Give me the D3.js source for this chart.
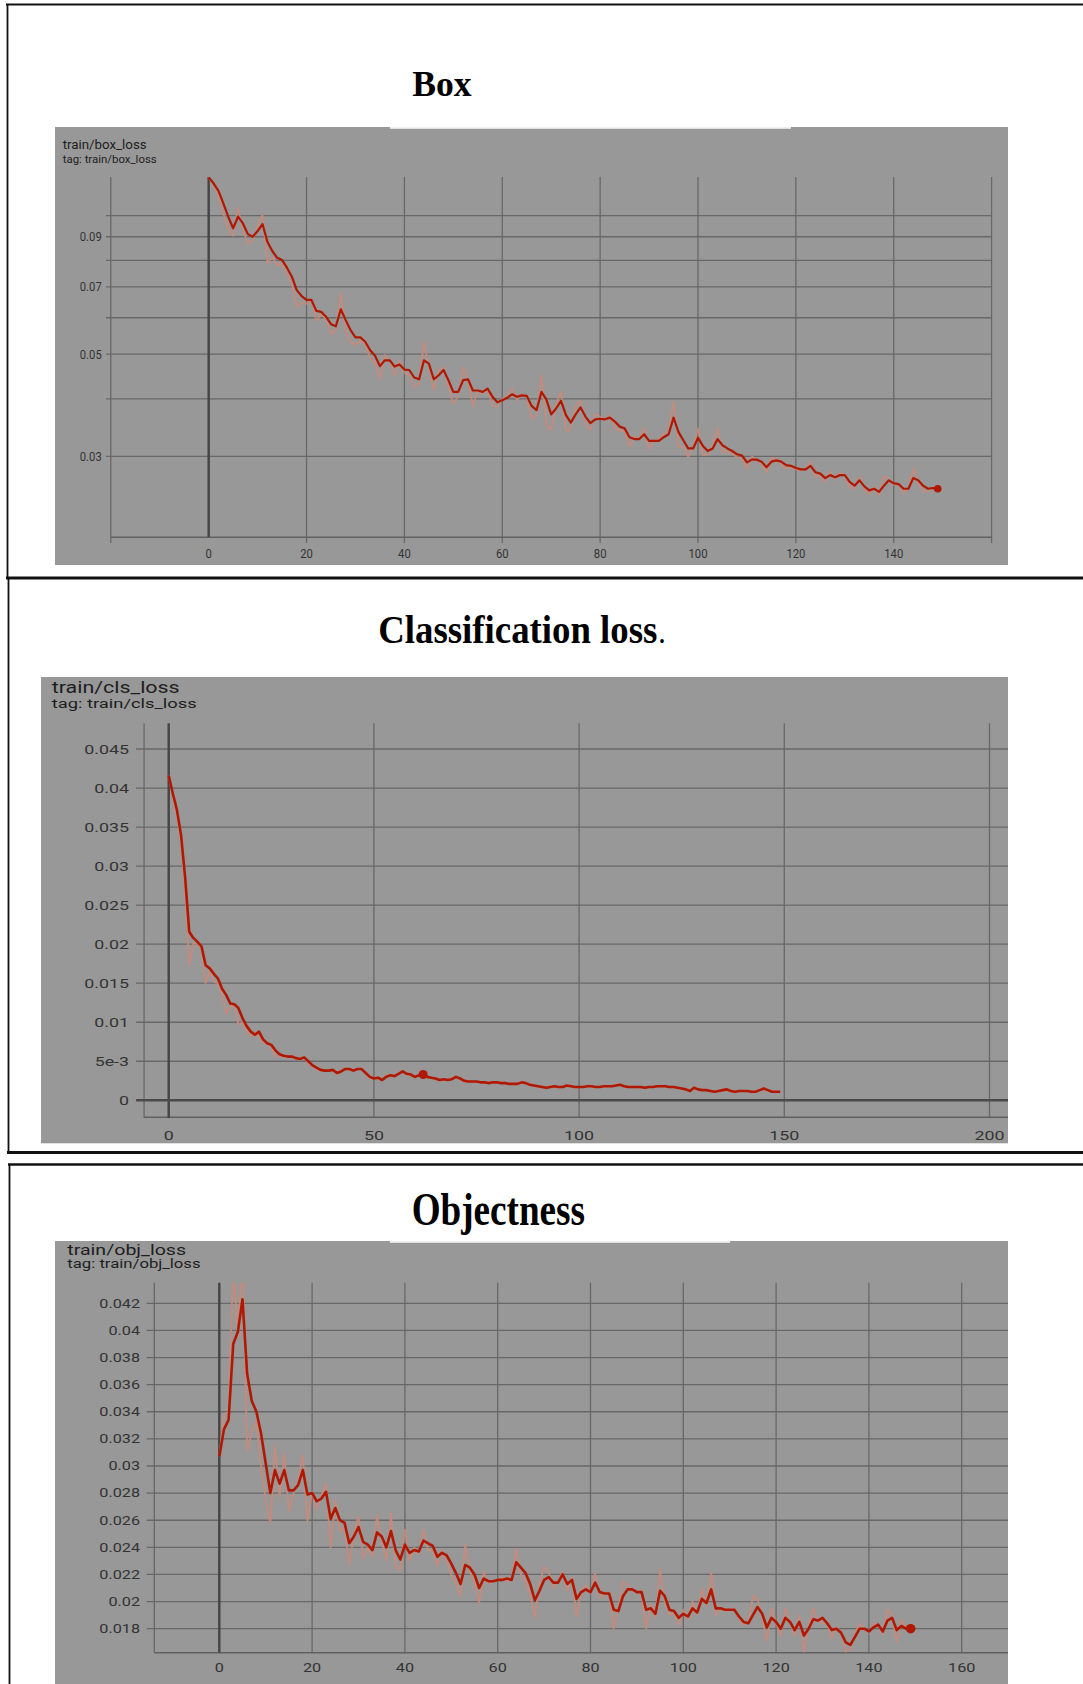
<!DOCTYPE html>
<html>
<head>
<meta charset="utf-8">
<script src="https://cdnjs.cloudflare.com/ajax/libs/d3/7.8.5/d3.min.js"></script>
<style>
  body { margin: 0; background: #fff; }
  svg { display: block; }
</style>
</head>
<body>
<svg id="draw"></svg>
<script>
// values, one value per epoch (0..149)
// dark line = smoothed, faint line = raw

var boxSmooth = [
  0.1212,0.1176,0.1132,0.1064,0.0995,0.0939,0.0995,0.0962,0.0912,0.0900,
  0.0926,0.0959,0.0878,0.0838,0.0810,0.0801,0.0771,0.0737,0.0689,0.0669,
  0.0656,0.0656,0.0621,0.0618,0.0603,0.0581,0.0575,0.0626,0.0593,0.0564,
  0.0544,0.0544,0.0532,0.0510,0.0496,0.0471,0.0485,0.0485,0.0470,0.0475,
  0.0463,0.0462,0.0445,0.0441,0.0485,0.0477,0.0441,0.0450,0.0462,0.0439,
  0.0414,0.0414,0.0439,0.0441,0.0417,0.0417,0.0414,0.0421,0.0404,0.0393,
  0.0397,0.0402,0.0409,0.0404,0.0407,0.0406,0.0386,0.0378,0.0414,0.0399,
  0.0370,0.0381,0.0396,0.0369,0.0355,0.0370,0.0383,0.0366,0.0354,0.0361,
  0.0362,0.0361,0.0364,0.0357,0.0348,0.0345,0.0330,0.0327,0.0327,0.0335,
  0.0324,0.0324,0.0324,0.0330,0.0335,0.0364,0.0339,0.0325,0.0312,0.0312,
  0.0329,0.0316,0.0308,0.0312,0.0327,0.0317,0.0312,0.0308,0.0303,0.0301,
  0.0291,0.0295,0.0295,0.0292,0.0284,0.0292,0.0294,0.0292,0.0287,0.0286,
  0.0283,0.0281,0.0281,0.0286,0.0277,0.0275,0.0269,0.0273,0.0270,0.0273,
  0.0273,0.0264,0.0259,0.0266,0.0258,0.0253,0.0255,0.0251,0.0259,0.0266,
  0.0262,0.0261,0.0255,0.0255,0.0269,0.0266,0.0259,0.0255,0.0256,0.0255
];
var boxRaw = [
  0.1212,0.1165,0.1110,0.1010,0.0935,0.0905,0.1040,0.0930,0.0870,0.0885,
  0.0950,0.1005,0.0790,0.0812,0.0779,0.0788,0.0750,0.0710,0.0634,0.0647,
  0.0643,0.0660,0.0590,0.0611,0.0595,0.0553,0.0565,0.0680,0.0560,0.0532,
  0.0524,0.0535,0.0525,0.0490,0.0480,0.0443,0.0498,0.0485,0.0450,0.0484,
  0.0455,0.0450,0.0425,0.0432,0.0531,0.0470,0.0418,0.0462,0.0468,0.0425,
  0.0390,0.0405,0.0468,0.0440,0.0386,0.0417,0.0410,0.0421,0.0386,0.0385,
  0.0400,0.0405,0.0421,0.0397,0.0410,0.0405,0.0362,0.0369,0.0450,0.0351,
  0.0342,0.0390,0.0414,0.0340,0.0345,0.0387,0.0396,0.0351,0.0342,0.0370,
  0.0366,0.0358,0.0368,0.0345,0.0340,0.0342,0.0315,0.0331,0.0327,0.0345,
  0.0312,0.0324,0.0326,0.0336,0.0340,0.0394,0.0315,0.0314,0.0299,0.0315,
  0.0345,0.0302,0.0303,0.0318,0.0345,0.0306,0.0308,0.0305,0.0298,0.0298,
  0.0282,0.0300,0.0294,0.0290,0.0277,0.0298,0.0296,0.0289,0.0282,0.0285,
  0.0281,0.0279,0.0281,0.0292,0.0270,0.0273,0.0264,0.0278,0.0267,0.0276,
  0.0273,0.0257,0.0255,0.0271,0.0254,0.0248,0.0257,0.0247,0.0271,0.0268,
  0.0260,0.0261,0.0250,0.0256,0.0282,0.0262,0.0252,0.0251,0.0257,0.0255
];

var clsSmooth = [
  0.0416,0.0393,0.0372,0.0340,0.0286,0.0216,0.0208,0.0203,0.0197,0.0173,
  0.0169,0.0162,0.0156,0.0143,0.0135,0.0124,0.0123,0.0118,0.0105,0.0095,
  0.0088,0.0084,0.0088,0.0078,0.0073,0.0071,0.0064,0.0059,0.0057,0.0056,
  0.0056,0.0054,0.0053,0.0055,0.0050,0.0045,0.0042,0.0039,0.0038,0.0038,
  0.0039,0.0035,0.0037,0.0040,0.0040,0.0038,0.0040,0.0040,0.0035,0.0030,
  0.0028,0.0029,0.0026,0.0030,0.0032,0.0031,0.0034,0.0037,0.0034,0.0033,
  0.0030,0.0032,0.0033,0.0030,0.0029,0.0028,0.0026,0.0027,0.0026,0.0027,
  0.0030,0.0028,0.0025,0.0024,0.0024,0.0024,0.0023,0.0023,0.0022,0.0023,
  0.0023,0.0022,0.0022,0.0021,0.0021,0.0021,0.0023,0.0022,0.0020,0.0019,
  0.0018,0.0017,0.0016,0.0017,0.0018,0.0017,0.0017,0.0019,0.0018,0.0017,
  0.0017,0.0017,0.0018,0.0018,0.0017,0.0017,0.0018,0.0018,0.0018,0.0019,
  0.0020,0.0018,0.0017,0.0017,0.0017,0.0017,0.0016,0.0017,0.0017,0.0018,
  0.0018,0.0018,0.0017,0.0017,0.0016,0.0015,0.0014,0.0012,0.0016,0.0014,
  0.0013,0.0013,0.0012,0.0011,0.0012,0.0013,0.0014,0.0012,0.0011,0.0012,
  0.0012,0.0012,0.0011,0.0011,0.0013,0.0015,0.0013,0.0011,0.0011,0.0011
];
var clsRaw = [
  0.0416,0.0388,0.0365,0.0330,0.0270,0.0173,0.0201,0.0200,0.0194,0.0150,
  0.0165,0.0152,0.0150,0.0137,0.0111,0.0120,0.0121,0.0097,0.0100,0.0090,
  0.0082,0.0086,0.0082,0.0074,0.0072,0.0069,0.0056,0.0057,0.0056,0.0055,
  0.0056,0.0053,0.0052,0.0056,0.0047,0.0043,0.0040,0.0038,0.0037,0.0038,
  0.0040,0.0033,0.0038,0.0041,0.0039,0.0037,0.0041,0.0040,0.0033,0.0028,
  0.0027,0.0030,0.0025,0.0032,0.0033,0.0030,0.0035,0.0038,0.0033,0.0032,
  0.0029,0.0033,0.0033,0.0029,0.0029,0.0027,0.0025,0.0028,0.0026,0.0028,
  0.0031,0.0027,0.0024,0.0024,0.0024,0.0024,0.0023,0.0023,0.0022,0.0023,
  0.0023,0.0022,0.0022,0.0021,0.0021,0.0021,0.0024,0.0022,0.0019,0.0018,
  0.0018,0.0016,0.0016,0.0018,0.0018,0.0016,0.0017,0.0020,0.0018,0.0016,
  0.0017,0.0017,0.0019,0.0018,0.0016,0.0017,0.0018,0.0018,0.0018,0.0020,
  0.0021,0.0017,0.0017,0.0017,0.0016,0.0017,0.0016,0.0017,0.0017,0.0018,
  0.0018,0.0018,0.0017,0.0016,0.0016,0.0015,0.0013,0.0011,0.0017,0.0013,
  0.0013,0.0012,0.0012,0.0011,0.0012,0.0014,0.0014,0.0011,0.0011,0.0012,
  0.0012,0.0012,0.0011,0.0011,0.0014,0.0016,0.0012,0.0011,0.0011,0.0011
];

var objSmooth = [
  0.0307,0.0327,0.0334,0.0390,0.0399,0.0423,0.0368,0.0348,0.0340,0.0324,
  0.0302,0.0280,0.0297,0.0287,0.0297,0.0282,0.0282,0.0286,0.0297,0.0279,
  0.0280,0.0274,0.0276,0.0281,0.0261,0.0269,0.0260,0.0258,0.0243,0.0248,
  0.0255,0.0244,0.0242,0.0238,0.0251,0.0248,0.0240,0.0252,0.0238,0.0231,
  0.0242,0.0236,0.0238,0.0237,0.0245,0.0243,0.0241,0.0233,0.0236,0.0234,
  0.0228,0.0221,0.0213,0.0227,0.0225,0.0220,0.0210,0.0217,0.0215,0.0215,
  0.0216,0.0216,0.0217,0.0216,0.0229,0.0225,0.0221,0.0213,0.0201,0.0208,
  0.0216,0.0218,0.0214,0.0214,0.0220,0.0213,0.0216,0.0202,0.0207,0.0209,
  0.0207,0.0214,0.0207,0.0206,0.0206,0.0194,0.0193,0.0204,0.0209,0.0209,
  0.0207,0.0207,0.0194,0.0195,0.0191,0.0208,0.0204,0.0194,0.0193,0.0188,
  0.0191,0.0189,0.0195,0.0192,0.0202,0.0199,0.0209,0.0195,0.0195,0.0194,
  0.0194,0.0194,0.0189,0.0185,0.0184,0.0190,0.0196,0.0191,0.0181,0.0188,
  0.0185,0.0180,0.0188,0.0185,0.0179,0.0185,0.0175,0.0180,0.0187,0.0186,
  0.0188,0.0184,0.0179,0.0180,0.0177,0.0170,0.0168,0.0174,0.0180,0.0180,
  0.0178,0.0181,0.0183,0.0178,0.0186,0.0188,0.0179,0.0182,0.0180,0.0180
];
var objRaw = [
  0.0307,0.0338,0.0340,0.0450,0.0395,0.0460,0.0311,0.0325,0.0333,0.0300,
  0.0275,0.0258,0.0315,0.0277,0.0309,0.0267,0.0280,0.0290,0.0308,0.0259,
  0.0281,0.0268,0.0278,0.0287,0.0240,0.0275,0.0252,0.0255,0.0227,0.0250,
  0.0263,0.0232,0.0240,0.0233,0.0264,0.0245,0.0230,0.0265,0.0226,0.0223,
  0.0253,0.0230,0.0240,0.0235,0.0253,0.0238,0.0238,0.0226,0.0238,0.0230,
  0.0220,0.0213,0.0204,0.0242,0.0222,0.0214,0.0199,0.0222,0.0213,0.0215,
  0.0216,0.0218,0.0215,0.0216,0.0239,0.0220,0.0215,0.0205,0.0188,0.0213,
  0.0226,0.0222,0.0210,0.0215,0.0222,0.0208,0.0218,0.0189,0.0208,0.0212,
  0.0206,0.0221,0.0203,0.0205,0.0207,0.0180,0.0195,0.0215,0.0212,0.0208,
  0.0207,0.0208,0.0180,0.0198,0.0188,0.0224,0.0200,0.0190,0.0192,0.0183,
  0.0194,0.0187,0.0200,0.0190,0.0210,0.0197,0.0222,0.0190,0.0195,0.0193,
  0.0194,0.0195,0.0187,0.0183,0.0184,0.0204,0.0202,0.0188,0.0171,0.0195,
  0.0184,0.0175,0.0195,0.0185,0.0175,0.0190,0.0163,0.0182,0.0195,0.0186,
  0.0184,0.0184,0.0173,0.0181,0.0178,0.0163,0.0165,0.0176,0.0184,0.0180,
  0.0177,0.0184,0.0183,0.0176,0.0194,0.0190,0.0170,0.0187,0.0180,0.0180
];

// ticks
var boxYGrid = [0.1, 0.09, 0.08, 0.07, 0.06, 0.05, 0.04, 0.03];
var boxYTicks = [0.09, 0.07, 0.05, 0.03];
var boxYLabels = ["0.09", "0.07", "0.05", "0.03"];
var boxXGrid = [-20, 20, 40, 60, 80, 100, 120, 140, 160];
var boxXTicks = [0, 20, 40, 60, 80, 100, 120, 140];

var clsYTicks = [0.045, 0.04, 0.035, 0.03, 0.025, 0.02, 0.015, 0.01, 0.005, 0];
var clsYLabels = ["0.045", "0.04", "0.035", "0.03", "0.025", "0.02", "0.015", "0.01", "5e-3", "0"];
var clsXGrid = [-6, 50, 100, 150, 200];
var clsXTicks = [0, 50, 100, 150, 200];

var objYTicks = [0.042, 0.04, 0.038, 0.036, 0.034, 0.032, 0.03, 0.028, 0.026, 0.024, 0.022, 0.02, 0.018];
var objYLabels = ["0.042", "0.04", "0.038", "0.036", "0.034", "0.032", "0.03", "0.028", "0.026", "0.024", "0.022", "0.02", "0.018"];
var objXGrid = [-14, 20, 40, 60, 80, 100, 120, 140, 160];
var objXTicks = [0, 20, 40, 60, 80, 100, 120, 140, 160];

var width = 1083;
var height = 1684;

var svg = d3.select("#draw")
  .attr("width", width)
  .attr("height", height);

var panels = [
  {
    id: "box",
    rect: [55, 127, 1008, 565],
    strip: [390, 791],
    header: { x: 62.7, y: 149.3, text: "train/box_loss", size: 13.5, len: 84 },
    tag: { x: 62.7, y: 163.3, text: "tag: train/box_loss", size: 11.5, len: 94 },
    x: d3.scaleLinear().domain([-20, 160]).range([110.8, 991.6]),
    y: d3.scaleLog().domain([0.02, 0.1]).range([537.3, 215.7]),
    yGrid: boxYGrid, yTicks: boxYTicks, yLabels: boxYLabels,
    xGrid: boxXGrid, xTicks: boxXTicks,
    gridTop: 177, gridBottom: 543, axisY: 537.3, axisLeft: -20,
    hLeft: 106, hRight: 991.6, zeroLine: false,
    labelSize: 12.5, sx: 0.9, yLabelRight: 101.7, xLabelY: 557.5,
    lineWidth: 2.2, dot: 149, dotR: 3.8,
    smooth: boxSmooth, raw: boxRaw
  },
  {
    id: "cls",
    rect: [41, 677, 1008, 1143.3],
    strip: null,
    header: { x: 51.7, y: 693.3, text: "train/cls_loss", size: 16, len: 128 },
    tag: { x: 51.7, y: 708.3, text: "tag: train/cls_loss", size: 12.5, len: 145 },
    x: d3.scaleLinear().domain([0, 200]).range([168.7, 989.5]),
    y: d3.scaleLinear().domain([0, 0.045]).range([1100.3, 749]),
    yGrid: clsYTicks, yTicks: clsYTicks, yLabels: clsYLabels,
    xGrid: clsXGrid, xTicks: clsXTicks,
    gridTop: 723.3, gridBottom: 1118, axisY: 1117.3, axisLeft: -6,
    hLeft: 136, hRight: 1008, zeroLine: true,
    labelSize: 13, sx: 1.37, yLabelRight: 129, xLabelY: 1139.5,
    lineWidth: 2.6, dot: 62, dotR: 4.5,
    smooth: clsSmooth, raw: clsRaw
  },
  {
    id: "obj",
    rect: [55, 1241, 1008, 1684],
    strip: [390, 730],
    header: { x: 67.3, y: 1255, text: "train/obj_loss", size: 15.5, len: 118.7 },
    tag: { x: 67.3, y: 1268.3, text: "tag: train/obj_loss", size: 12.5, len: 133.3 },
    x: d3.scaleLinear().domain([0, 160]).range([219.3, 961.7]),
    y: d3.scaleLinear().domain([0.018, 0.042]).range([1628.7, 1303.3]),
    yGrid: objYTicks, yTicks: objYTicks, yLabels: objYLabels,
    xGrid: objXGrid, xTicks: objXTicks,
    gridTop: 1282.7, gridBottom: 1652.7, axisY: 1652.7, axisLeft: -14,
    hLeft: 146.7, hRight: 1008, zeroLine: false,
    labelSize: 12, sx: 1.35, yLabelRight: 140, xLabelY: 1672,
    lineWidth: 2.6, dot: 149, dotR: 4.8,
    smooth: objSmooth, raw: objRaw
  }
];

// outer frames around the three pasted screenshots
function drawFrames() {
  var f = svg.append("g").attr("stroke", "#111").attr("fill", "none");
  f.append("line").attr("x1", 6).attr("x2", width).attr("y1", 4.5).attr("y2", 4.5).attr("stroke-width", 2);
  f.append("line").attr("x1", 7.5).attr("x2", 7.5).attr("y1", 4).attr("y2", 578).attr("stroke-width", 1.8);
  f.append("line").attr("x1", 6).attr("x2", width).attr("y1", 578).attr("y2", 578).attr("stroke-width", 3);
  f.append("line").attr("x1", 8.5).attr("x2", 8.5).attr("y1", 578).attr("y2", 1153).attr("stroke-width", 1.8);
  f.append("line").attr("x1", 7).attr("x2", width).attr("y1", 1152.5).attr("y2", 1152.5).attr("stroke-width", 3);
  f.append("line").attr("x1", 8).attr("x2", width).attr("y1", 1164.5).attr("y2", 1164.5).attr("stroke-width", 2.5);
  f.append("line").attr("x1", 9.5).attr("x2", 9.5).attr("y1", 1164).attr("y2", height).attr("stroke-width", 1.8);
}

function drawTitles() {
  var t = svg.append("g")
    .attr("font-family", "'Liberation Serif', 'Times New Roman', serif")
    .attr("font-weight", "bold")
    .attr("fill", "#000");

  t.append("text")
    .attr("x", 412.3).attr("y", 96)
    .attr("font-size", 35.5)
    .attr("textLength", 59.4)
    .attr("lengthAdjust", "spacingAndGlyphs")
    .text("Box");

  var cls = t.append("text")
    .attr("transform", "translate(378.3,643.3) scale(1,1.09)")
    .attr("font-size", 37);
  cls.append("tspan")
    .attr("textLength", 279)
    .attr("lengthAdjust", "spacingAndGlyphs")
    .text("Classification loss");
  cls.append("tspan")
    .attr("font-weight", "normal")
    .attr("font-size", 30)
    .attr("dx", 1)
    .text(".");

  t.append("text")
    .attr("transform", "translate(411.7,1225) scale(1,1.26)")
    .attr("font-size", 37)
    .attr("textLength", 173.3)
    .attr("lengthAdjust", "spacingAndGlyphs")
    .text("Objectness");
}

function drawPanel(p) {
  var g = svg.append("g").attr("class", p.id);
  var x = p.x, y = p.y;

  g.append("rect")
    .attr("x", p.rect[0]).attr("y", p.rect[1])
    .attr("width", p.rect[2] - p.rect[0])
    .attr("height", p.rect[3] - p.rect[1])
    .attr("fill", "#989898");

  if (p.strip) {
    g.append("rect")
      .attr("x", p.strip[0]).attr("y", p.rect[1])
      .attr("width", p.strip[1] - p.strip[0])
      .attr("height", 1.8)
      .attr("fill", "#f1f1f1");
  }

  var txt = g.append("g")
    .attr("font-family", "Roboto, 'Open Sans', sans-serif")
    .attr("fill", "#1e1e1e");

  [p.header, p.tag].forEach(function(h) {
    txt.append("text")
      .attr("x", h.x).attr("y", h.y)
      .attr("font-size", h.size)
      .attr("textLength", h.len)
      .attr("lengthAdjust", "spacingAndGlyphs")
      .text(h.text);
  });

  // horizontal grid
  g.append("g").selectAll("line")
    .data(p.yGrid)
    .enter().append("line")
    .attr("x1", p.hLeft).attr("x2", p.hRight)
    .attr("y1", function(d) { return y(d); })
    .attr("y2", function(d) { return y(d); })
    .attr("stroke", "#686868")
    .attr("stroke-width", 1.3);

  // vertical grid
  g.append("g").selectAll("line")
    .data(p.xGrid)
    .enter().append("line")
    .attr("x1", function(d) { return x(d); })
    .attr("x2", function(d) { return x(d); })
    .attr("y1", p.gridTop).attr("y2", p.gridBottom)
    .attr("stroke", "#686868")
    .attr("stroke-width", 1.3);

  // bottom axis line
  g.append("line")
    .attr("x1", x(p.axisLeft)).attr("x2", p.hRight)
    .attr("y1", p.axisY).attr("y2", p.axisY)
    .attr("stroke", "#606060")
    .attr("stroke-width", 1.6);

  // zero lines
  g.append("line")
    .attr("x1", x(0)).attr("x2", x(0))
    .attr("y1", p.gridTop).attr("y2", p.zeroLine ? p.gridBottom : p.axisY)
    .attr("stroke", "#444")
    .attr("stroke-width", 2.4);
  if (p.zeroLine) {
    g.append("line")
      .attr("x1", p.hLeft).attr("x2", p.hRight)
      .attr("y1", y(0)).attr("y2", y(0))
      .attr("stroke", "#4a4a4a")
      .attr("stroke-width", 2.4);
  }

  // tick labels
  var lab = g.append("g")
    .attr("font-family", "Roboto, 'Open Sans', sans-serif")
    .attr("font-size", p.labelSize)
    .attr("fill", "#333");

  lab.selectAll(".ylab")
    .data(p.yTicks)
    .enter().append("text")
    .attr("class", "ylab")
    .attr("text-anchor", "end")
    .attr("transform", function(d) {
      return "translate(" + p.yLabelRight + "," + (y(d) + p.labelSize * 0.36) + ") scale(" + p.sx + ",1)";
    })
    .text(function(d, i) { return p.yLabels[i]; });

  lab.selectAll(".xlab")
    .data(p.xTicks)
    .enter().append("text")
    .attr("class", "xlab")
    .attr("text-anchor", "middle")
    .attr("transform", function(d) {
      return "translate(" + x(d) + "," + p.xLabelY + ") scale(" + p.sx + ",1)";
    })
    .text(function(d) { return d; });

  // data lines, clipped to the plot area
  var clipId = "clip-" + p.id;
  g.append("clipPath").attr("id", clipId)
    .append("rect")
    .attr("x", p.hLeft).attr("y", p.gridTop)
    .attr("width", p.hRight - p.hLeft)
    .attr("height", p.gridBottom - p.gridTop);

  var line = d3.line()
    .x(function(d, i) { return x(i); })
    .y(function(d) { return y(d); });

  var plot = g.append("g").attr("clip-path", "url(#" + clipId + ")");

  plot.append("path")
    .datum(p.raw)
    .attr("d", line)
    .attr("fill", "none")
    .attr("stroke", "#c98a7a")
    .attr("stroke-opacity", 0.85)
    .attr("stroke-width", 1.9)
    .attr("stroke-linejoin", "round");

  plot.append("path")
    .datum(p.smooth)
    .attr("d", line)
    .attr("fill", "none")
    .attr("stroke", "#b01802")
    .attr("stroke-width", p.lineWidth)
    .attr("stroke-linejoin", "round");

  plot.append("circle")
    .attr("cx", x(p.dot))
    .attr("cy", y(p.smooth[p.dot]))
    .attr("r", p.dotR)
    .attr("fill", "#b01802");
}

drawFrames();
drawTitles();
panels.forEach(drawPanel);
</script>
</body>
</html>
